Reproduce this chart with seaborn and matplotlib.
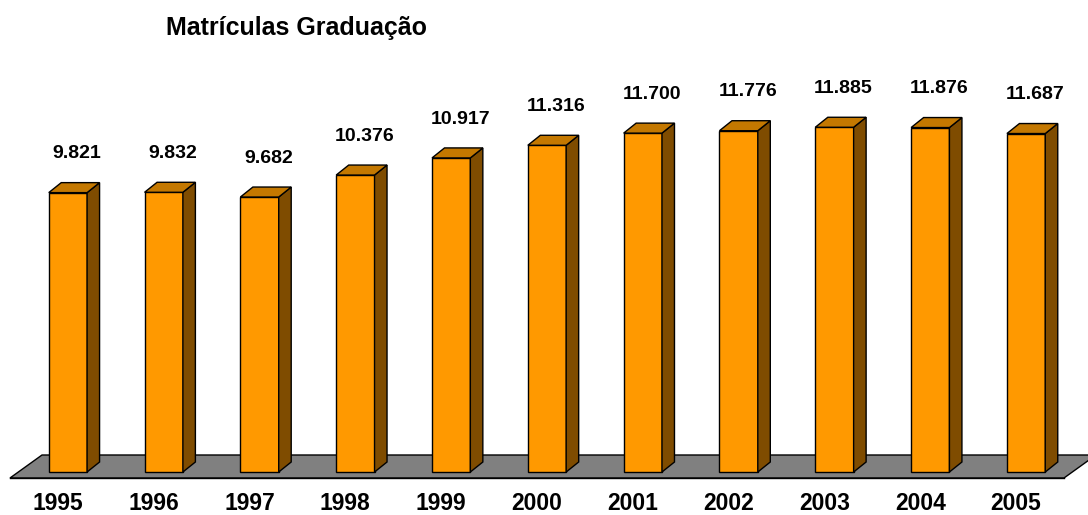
import matplotlib
matplotlib.use('Agg')
import matplotlib.pyplot as plt
import matplotlib.transforms as mtransforms
from matplotlib.patches import Polygon
import seaborn as sns

# dados
anos = ['1995', '1996', '1997', '1998', '1999', '2000', '2001', '2002', '2003', '2004', '2005']
matriculas = [9821, 9832, 9682, 10376, 10917, 11316, 11700, 11776, 11885, 11876, 11687]
titulo = 'Matrículas Graduação'

sns.set_style('white')
plt.rcParams['font.family'] = ['Liberation Sans', 'DejaVu Sans']
plt.rcParams['text.color'] = 'black'
plt.rcParams['xtick.color'] = 'black'

FRENTE = '#FF9900'
LADO = '#7F4C00'
TOPO = '#C47800'
PISO = '#808080'


def main():
    W, H = 1088, 515
    fig = plt.figure(figsize=(W / 100, H / 100), dpi=100)
    ax = fig.add_axes([10 / W, (H - 472) / H, (1064 - 10) / W, (472 - 60) / H])

    sns.barplot(x=anos, y=matriculas, color=FRENTE, saturation=1, width=0.4,
                edgecolor='black', linewidth=1, ax=ax, zorder=3)
    y_min = 1000
    ax.set_xlim(-0.5, 10.5)
    ax.set_ylim(y_min, 14009)
    barras = list(ax.patches)

    # deslocamento das barras para o meio do "piso"
    shift_px = 10.0
    desloc = mtransforms.ScaledTranslation(shift_px / 100, 0, fig.dpi_scale_trans)
    for p in barras:
        h = p.get_y() + p.get_height()
        p.set_y(y_min)
        p.set_height(h - y_min)
        p.set_transform(ax.transData + desloc)
        p.set_clip_on(False)

    ident = mtransforms.IdentityTransform()

    # piso 3D
    bb = ax.get_window_extent()
    y_front = bb.y0 - 6
    y_back = bb.y0 + 17
    piso = Polygon([(bb.x0, y_front), (bb.x1, y_front), (bb.x1 + 32, y_back), (bb.x0 + 32, y_back)],
                   closed=True, facecolor=PISO, edgecolor='black', linewidth=1,
                   transform=ident, zorder=1, clip_on=False)
    ax.add_artist(piso)

    # faces lateral e superior
    dx, dy = 12.5, 10
    for p in barras:
        x0 = p.get_x()
        x1 = x0 + p.get_width()
        h = p.get_y() + p.get_height()
        X0, Yb = ax.transData.transform((x0, y_min))
        X1, Yt = ax.transData.transform((x1, h))
        X0 += shift_px
        X1 += shift_px
        lado = Polygon([(X1, Yb), (X1, Yt), (X1 + dx, Yt + dy), (X1 + dx, Yb + dy)],
                       closed=True, facecolor=LADO, edgecolor='black', linewidth=1,
                       transform=ident, zorder=4, clip_on=False)
        topo = Polygon([(X0, Yt), (X1, Yt), (X1 + dx, Yt + dy), (X0 + dx, Yt + dy)],
                       closed=True, facecolor=TOPO, edgecolor='black', linewidth=1,
                       transform=ident, zorder=4, clip_on=False)
        ax.add_artist(lado)
        ax.add_artist(topo)

    # rótulos de valores
    for i, v in enumerate(matriculas):
        txt = f'{v:,}'.replace(',', '.')
        ax.annotate(txt, xy=(i, v), xytext=(13.7, 28), textcoords='offset points',
                    ha='center', va='center', fontsize=14, fontweight='bold', clip_on=False)

    # eixos
    for s in ['top', 'right', 'left']:
        ax.spines[s].set_visible(False)
    ax.spines['bottom'].set_position(('outward', 4.3))
    ax.spines['bottom'].set_color('black')
    ax.spines['bottom'].set_linewidth(1)
    ax.spines['bottom'].set_zorder(2)
    ax.set_yticks([])
    ax.set_xticks(range(len(anos)))
    ax.set_xticklabels(anos, fontsize=16.5, fontweight='bold')
    ax.set_xticks([i - 0.5 for i in range(len(anos) + 1)], minor=True)
    ax.tick_params(axis='x', which='major', length=0, pad=10)
    ax.tick_params(axis='x', which='minor', length=3.6, width=1, color='black', direction='out')
    ax.set_xlabel('')
    ax.set_ylabel('')
    ax.patch.set_alpha(0)

    fig.text(296 / W, 1 - 28 / H, titulo, ha='center', va='center',
             fontsize=18, fontweight='bold')

    fig.savefig('out.png', dpi=100)


if __name__ == '__main__':
    main()
